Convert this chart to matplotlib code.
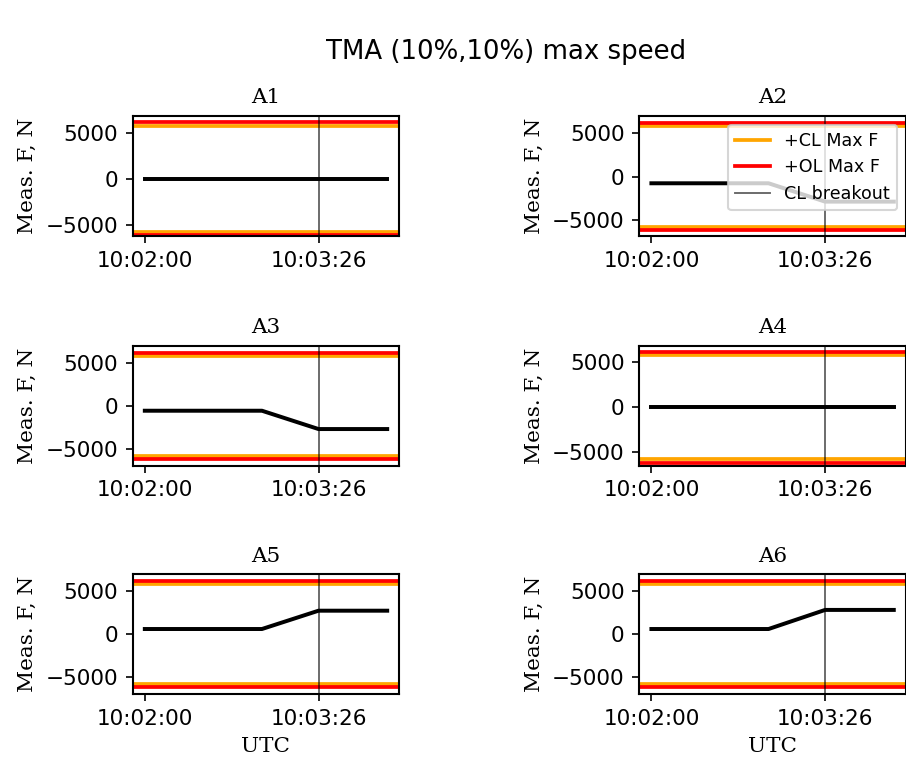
#!/usr/bin/env python3
"""Measured actuator force vs time for the TMA max-speed run (10%, 10%)."""

import matplotlib

matplotlib.use("Agg")
import matplotlib.pyplot as plt

# seconds after 10:02:00 UTC
TIME_S = [0, 58, 86, 120]
ACTUATORS = ["A1", "A2", "A3", "A4", "A5", "A6"]
FORCE_A1 = [0, 0, 0, 0]
FORCE_A2 = [-760, -760, -2880, -2880]
FORCE_A3 = [-550, -550, -2680, -2680]
FORCE_A4 = [0, 0, 0, 0]
FORCE_A5 = [580, 580, 2710, 2710]
FORCE_A6 = [580, 580, 2800, 2800]
FORCES = [FORCE_A1, FORCE_A2, FORCE_A3, FORCE_A4, FORCE_A5, FORCE_A6]

CL_MAX_F = 5800
OL_MAX_F = 6150
BREAKOUT_S = 86

# y limits
YLIMS = [(-6255, 6845), (-6848, 7009), (-6942, 7012),
         (-6489, 6844), (-6977, 6977), (-6977, 6977)]

TICK_S = [0, 86]
TICK_LABELS = ["10:02:00", "10:03:26"]

SERIF = "DejaVu Serif"


def main() -> None:
    W, H = 906, 764
    fig = plt.figure(figsize=(W / 150, H / 150), dpi=150)

    lefts = [132.7, 639.3]
    tops = [116, 345.7, 574]
    ax_w, ax_h = 266.6, 120

    for i, name in enumerate(ACTUATORS):
        row, col = divmod(i, 2)
        ax = fig.add_axes([lefts[col] / W, 1 - (tops[row] + ax_h) / H, ax_w / W, ax_h / H])

        ax.plot(TIME_S, FORCES[i], color="k", linewidth=1.9, zorder=3)
        ax.axhline(CL_MAX_F, color="orange", linewidth=1.8, label="+CL Max F")
        ax.axhline(OL_MAX_F, color="red", linewidth=1.8, label="+OL Max F")
        ax.axhline(-CL_MAX_F, color="orange", linewidth=1.8)
        ax.axhline(-OL_MAX_F, color="red", linewidth=1.8)
        ax.axvline(BREAKOUT_S, color="k", linewidth=0.9, alpha=0.6, label="CL breakout")

        for s in ax.spines.values():
            s.set_linewidth(1.0)

        ax.set_ylim(*YLIMS[i])
        ax.set_xticks(TICK_S)
        ax.set_xticklabels(TICK_LABELS)
        ax.tick_params(labelsize=10.3)
        ax.set_title(name, family=SERIF, fontsize=10.3)
        ax.set_ylabel("Meas. F, N", family=SERIF, fontsize=10.3)
        if row == 2:
            ax.set_xlabel("UTC", family=SERIF, fontsize=10.3)
        if name == "A2":
            ax.legend(loc="upper right", fontsize=8.4)

    fig.text(0.559, 1 - 52 / H, "TMA (10%,10%) max speed", ha="center", va="center", fontsize=12.5)

    fig.savefig("out.png", dpi=150)
    plt.close("all")


if __name__ == "__main__":
    main()
